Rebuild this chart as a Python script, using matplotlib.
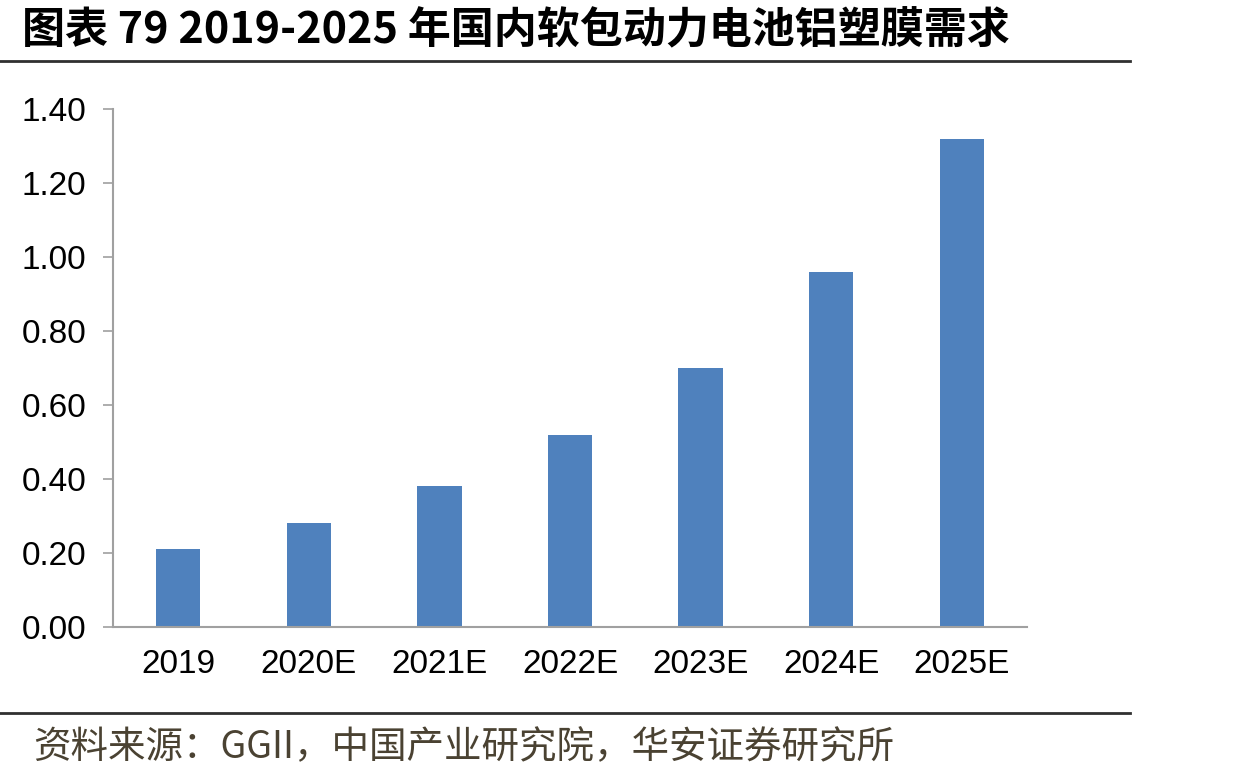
import matplotlib
matplotlib.use('Agg')
import matplotlib.pyplot as plt
from matplotlib.lines import Line2D

plt.rcParams['font.family'] = ['Liberation Sans', 'Noto Sans CJK SC', 'DejaVu Sans']

years = ['2019', '2020E', '2021E', '2022E', '2023E', '2024E', '2025E']
demand = [0.21, 0.28, 0.38, 0.52, 0.70, 0.96, 1.32]
yticks = [0.0, 0.2, 0.4, 0.6, 0.8, 1.0, 1.2, 1.4]

title = '图表 79 2019-2025 年国内软包动力电池铝塑膜需求'
source = '资料来源：GGII，中国产业研究院，华安证券研究所'

W, H = 1240, 781
fig = plt.figure(figsize=(W / 100, H / 100), dpi=100)
ax = fig.add_axes([113 / W, 1 - 627 / H, (1027 - 113) / W, (627 - 109) / H])

x = range(len(years))
ax.bar(x, demand, width=0.34, color='#4f81bd', zorder=2)
ax.set_xlim(-0.5, len(years) - 0.5)
ax.set_ylim(0, 1.4)
ax.set_yticks(yticks)
ax.set_yticklabels([f'{v:.2f}' for v in yticks])
ax.set_xticks(list(x))
ax.set_xticklabels(years)

for s in ['top', 'right']:
    ax.spines[s].set_visible(False)
for s in ['left', 'bottom']:
    ax.spines[s].set_color('#a0a0a0')
    ax.spines[s].set_linewidth(1.5)
ax.tick_params(axis='y', length=7, width=1.2, color='#a0a0a0', labelsize=24, pad=12)
ax.tick_params(axis='x', length=0, labelsize=24, pad=16)

fig.text(22 / W, 1 - 30 / H, title, fontsize=31, fontweight='bold',
         family=['Noto Sans CJK SC', 'DejaVu Sans'], va='center', ha='left')
fig.add_artist(Line2D([0, 1130 / W], [1 - 61 / H] * 2, color='#303030', lw=2))
fig.add_artist(Line2D([0, 1130 / W], [1 - 713 / H] * 2, color='#303030', lw=2))
fig.text(33 / W, 1 - 748 / H, source, fontsize=27, color='#4a4232',
         family=['Noto Sans CJK SC', 'DejaVu Sans'], va='center', ha='left')

fig.savefig('out.png', dpi=100)
